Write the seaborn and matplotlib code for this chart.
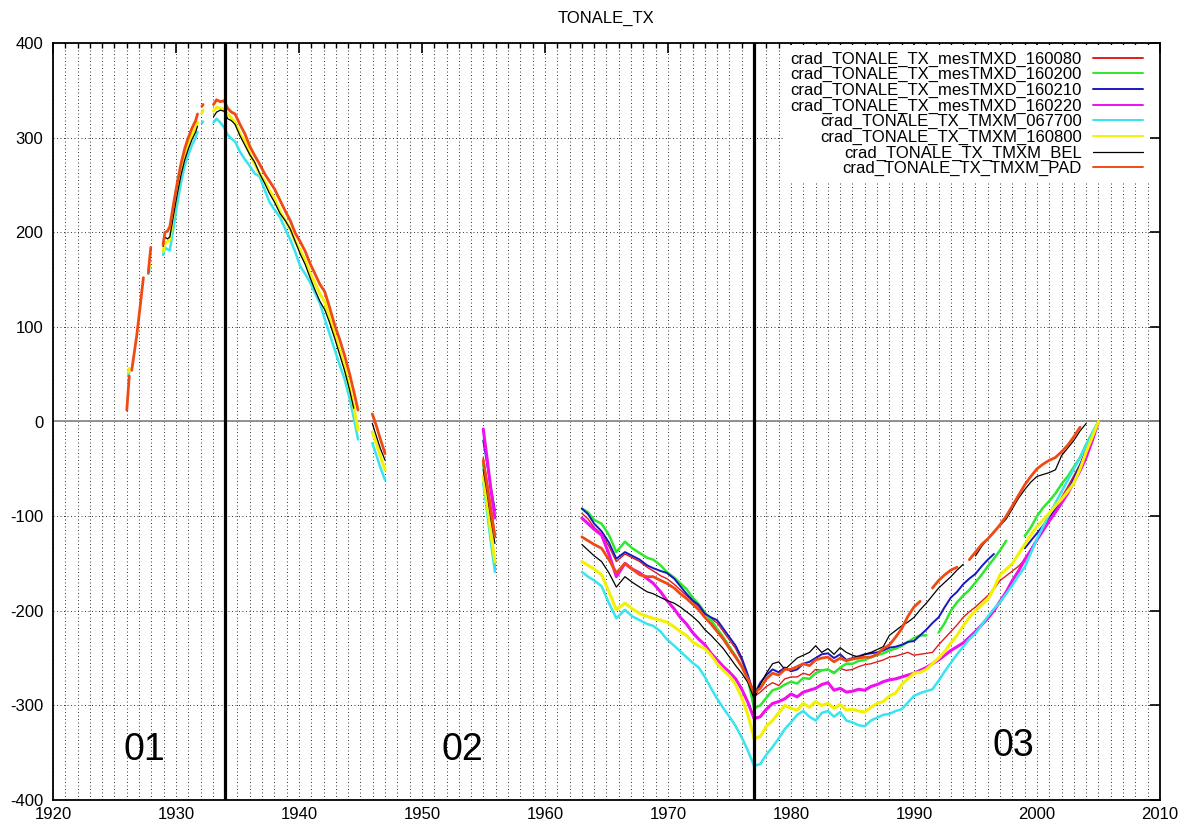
import numpy as np
import pandas as pd
import matplotlib
matplotlib.use("Agg")
import matplotlib.pyplot as plt
from matplotlib.lines import Line2D
from matplotlib.ticker import MultipleLocator
import seaborn as sns

nan = np.nan

SERIES = ["crad_TONALE_TX_mesTMXD_160080", "crad_TONALE_TX_mesTMXD_160200",
          "crad_TONALE_TX_mesTMXD_160210", "crad_TONALE_TX_mesTMXD_160220",
          "crad_TONALE_TX_TMXM_067700", "crad_TONALE_TX_TMXM_160800",
          "crad_TONALE_TX_TMXM_BEL", "crad_TONALE_TX_TMXM_PAD"]

# ---- year grids (NaN values in a series mark missing data -> line breaks)
YEARS_P1 = [1926.0, 1926.1, 1926.2, 1926.3, 1926.4, 1926.6, 1926.8, 1927.0, 1927.2, 1927.35,
            1927.55, 1927.75, 1927.85, 1927.95, 1928.5, 1928.95, 1929.1, 1929.3, 1929.5, 1929.8,
            1930.1, 1930.4, 1930.7, 1931.0, 1931.3, 1931.6, 1931.75, 1931.95, 1932.1, 1932.2,
            1932.6, 1933.05, 1933.3, 1933.6, 1933.9, 1934.2, 1934.5, 1934.8, 1935.2, 1935.6,
            1936.0, 1936.4, 1936.8, 1937.2, 1937.6, 1938.0, 1938.45, 1938.9, 1939.3, 1939.7,
            1940.1, 1940.5, 1940.9, 1941.3, 1941.7, 1942.1, 1942.5, 1942.9, 1943.3, 1943.7,
            1944.1, 1944.45, 1944.8, 1945.4, 1945.96, 1946.3, 1946.6, 1947.0, 1950.0]
YEARS_P2 = [1954.98, 1955.3, 1955.6, 1955.93, 1959.0]
YEARS_P2B = [1963.0, 1963.5, 1964.0, 1964.6, 1965.2, 1965.8, 1966.5, 1967.1, 1967.7, 1968.3,
             1968.8, 1969.4, 1969.9, 1970.5, 1971.0, 1971.5, 1972.0, 1972.5, 1973.0, 1973.5,
             1974.0, 1974.5, 1975.0, 1975.5, 1976.0, 1976.5, 1977.0]
YEARS_P3 = [1977.5, 1978.0, 1978.5, 1979.0, 1979.5, 1980.0, 1980.5, 1981.0, 1981.5, 1982.0,
            1982.5, 1983.0, 1983.5, 1984.0, 1984.5, 1985.0, 1985.5, 1986.0, 1986.5, 1987.0,
            1987.5, 1988.0, 1988.5, 1989.0, 1989.5, 1990.0, 1990.5, 1991.0, 1991.5, 1992.0,
            1992.5, 1993.0, 1993.5, 1994.0, 1994.5, 1995.0, 1995.5, 1996.0, 1996.5, 1997.0,
            1997.5, 1998.0, 1998.5, 1999.0, 1999.5, 2000.0, 2000.5, 2001.0, 2001.5, 2002.0,
            2002.5, 2003.0, 2003.5, 2004.0, 2004.5, 2005.0]

# ---- period 1 (only four series reported)
PAD_P1 = [12, 30, 48, nan, 54, 72, 90, 112, 135, 152,
          nan, 157, 171, 184, nan, 187, 200, 201, 206, 230,
          252, 272, 288, 300, 310, 318, 325, nan, 333, 335,
          nan, 335, 340, 338, 339, 331, 327, 325, 314, 304,
          291, 281, 272, 262, 254, 246, 234, 222, 212, 199,
          190, 180, 167, 156, 145, 137, 120, 102, 87, 70,
          51, 32, 12, nan, 8, -5, -18, -34, nan]
YELLOW_P1 = [nan, 52, 56, nan, nan, nan, nan, nan, nan, nan,
             nan, 160, 165, nan, nan, 180, 188, 190, 192, 222,
             246, 266, 282, 293, 303, 310, 316, nan, 326, 329,
             nan, 328, 332, 331, 330, 325, 321, 316, 304, 296,
             283, 272, 262, 254, 244, 236, 222, 212, 203, 190,
             181, 170, 157, 146, 135, 126, 108, 92, 75, 58,
             36, 16, -9, nan, -11, -24, -36, -51, nan]
BLACK_P1 = [nan, nan, nan, nan, nan, nan, nan, nan, nan, nan,
            nan, nan, nan, nan, nan, 185, 195, 193, 195, 218,
            240, 260, 276, 288, 298, 306, 312, nan, nan, nan,
            nan, 322, 327, 329, 328, 320, 318, 314, 302, 292,
            282, 274, 262, 252, 241, 232, 220, 212, 203, 190,
            177, 166, 152, 139, 127, 118, 104, 88, 71, 54,
            34, 14, nan, nan, -2, -16, -28, -41, nan]
CYAN_P1 = [nan, 48, 52, nan, nan, nan, nan, nan, nan, nan,
           nan, 156, 160, nan, nan, 176, 184, 182, 181, 205,
           230, 252, 270, 282, 292, 300, 306, nan, 315, 317,
           nan, 316, 320, 316, 311, 303, 299, 296, 285, 277,
           270, 262, 259, 245, 232, 224, 216, 203, 192, 179,
           164, 156, 147, 136, 125, 108, 92, 76, 60, 45,
           25, 4, -19, nan, -23, -36, -48, -62, nan]

# ---- period 2 (1955)
RED_P2 = [-38, -64, -90, -118, nan]
GREEN_P2 = [-45, -80, -118, -155, nan]
BLUE_P2 = [-20, -45, -70, -94, nan]
MAGENTA_P2 = [-8, -40, -72, -102, nan]
CYAN_P2 = [-65, -97, -128, -159, nan]
YELLOW_P2 = [-58, -88, -118, -148, nan]
BLACK_P2 = [-51, -76, -103, -129, nan]
PAD_P2 = [-41, -68, -95, -122, nan]

# ---- period 2b (1963-1977)
RED_P2B = [-97, -103, -112, -119, -132, -148, -140, -144, -148, -154, -158, -163, -166, -172,
           -178, -184, -190, -196, -204, -208, -213, -222, -231, -240, -253, -270, -291]
GREEN_P2B = [-92, -96, -104, -108, -120, -138, -127, -134, -139, -144, -146, -152, -159, -165,
             -171, -177, -186, -193, -202, -210, -219, -228, -238, -248, -259, -273, -303]
BLUE_P2B = [-92, -98, -108, -116, -128, -145, -138, -142, -146, -152, -155, -158, -160, -166,
            -174, -182, -189, -194, -203, -207, -210, -219, -228, -237, -250, -268, -289]
MAGENTA_P2B = [-102, -108, -114, -120, -140, -164, -150, -156, -160, -166, -171, -180, -189, -198,
               -207, -214, -223, -230, -236, -245, -252, -259, -265, -272, -283, -297, -314]
CYAN_P2B = [-159, -164, -168, -174, -192, -208, -199, -206, -210, -214, -216, -222, -230, -237,
            -243, -249, -255, -260, -270, -282, -293, -303, -312, -322, -334, -348, -364]
YELLOW_P2B = [-148, -152, -156, -162, -180, -199, -192, -198, -203, -206, -208, -210, -212, -217,
              -222, -226, -233, -237, -240, -247, -256, -263, -269, -278, -292, -310, -335]
BLACK_P2B = [-130, -136, -142, -148, -160, -175, -164, -170, -175, -180, -182, -186, -189, -192,
             -196, -201, -206, -212, -220, -226, -233, -240, -249, -258, -266, -276, -293]
PAD_P2B = [-122, -126, -130, -134, -146, -160, -150, -156, -162, -164, -164, -168, -171, -176,
           -182, -187, -193, -199, -207, -214, -222, -230, -240, -249, -259, -272, -287]

# ---- period 3 (1977-2005)
RED_P3 = [-286, -280, -276, -279, -272, -270, -270, -266, -268, -262,
          -263, -262, -265, -261, -263, -262, -259, -257, -256, -254,
          -252, -249, -248, -246, -244, -247, -246, -245, -244, -236,
          -229, -222, -215, -207, -201, -196, -190, -184, -177, -168,
          -163, -158, -153, -146, -136, -125, -112, -101, -91, -80,
          -69, -57, -45, -31, -16, 0]
GREEN_P3 = [-300, -292, -284, -282, -278, -275, -277, -271, -272, -266,
            -263, -262, -266, -260, -256, -256, -253, -252, -249, -247,
            -245, -242, -240, -237, -233, -229, -226, -226, nan, -223,
            -213, -200, -191, -184, -178, -170, -162, -153, -145, -136,
            -126, nan, nan, -121, -112, -100, -91, -84, -76, -66,
            -58, -48, -38, -24, -12, 0]
BLUE_P3 = [-276, -268, -262, -265, -260, -264, -262, -256, -254, -250,
           -246, -245, -250, -246, -252, -250, -248, -246, -245, -244,
           -242, -239, -238, -236, -233, -232, -226, -220, -213, -207,
           -196, -186, -180, -172, -166, -161, -153, -146, -140, nan,
           nan, nan, nan, -134, -126, -118, -110, -102, -93, -83,
           -73, -60, -46, -30, -14, 0]
MAGENTA_P3 = [-312, -304, -298, -296, -293, -288, -291, -286, -284, -282,
              -278, -276, -284, -282, -286, -285, -283, -284, -280, -278,
              -275, -273, -272, -270, -268, -266, -263, -260, -256, -252,
              -247, -242, -238, -234, -228, -222, -215, -208, -200, -190,
              -180, -168, -158, -146, -136, -125, -115, -105, -96, -86,
              -76, -64, -52, -38, -20, 0]
CYAN_P3 = [-362, -352, -344, -335, -325, -318, -310, -306, -312, -316,
           -308, -306, -312, -307, -316, -318, -321, -322, -316, -313,
           -310, -309, -306, -304, -297, -290, -287, -285, -283, -274,
           -264, -255, -246, -238, -230, -224, -215, -206, -198, -191,
           -182, -173, -163, -154, -139, -124, -111, -98, -86, -74,
           -62, -50, -38, -25, -12, 0]
YELLOW_P3 = [-333, -322, -316, -308, -300, -303, -305, -298, -302, -296,
             -300, -298, -303, -299, -305, -304, -306, -307, -302, -298,
             -296, -290, -287, -278, -272, -266, -265, -262, -256, -250,
             -243, -234, -226, -216, -207, -200, -194, -188, -176, -162,
             -156, -150, -140, -130, -120, -111, -104, -97, -89, -82,
             -74, -65, -50, -32, -16, 0]
BLACK_P3 = [-278, -266, -256, -254, -262, -256, -250, -247, -244, -237,
            -244, -240, -246, -239, -244, -247, -249, -246, -244, -241,
            -238, -226, -221, -216, -212, -207, -199, -192, -184, -176,
            -170, -164, -157, -151, nan, -142, -132, -124, -116, -110,
            -103, -92, -81, -72, -64, -58, -56, -54, -51, -36,
            -28, -20, -10, -2, nan, nan]
PAD_P3 = [-282, -272, -266, -268, -262, -262, -259, -256, -258, -252,
          -250, -249, -254, -250, -253, -251, -250, -249, -249, -246,
          -240, -236, -228, -219, -206, -196, -190, nan, -176, -168,
          -162, -157, -154, nan, -146, -138, -130, -124, -117, -109,
          -100, -89, -78, -67, -58, -50, -45, -41, -38, -32,
          -25, -16, -6, nan, nan, nan]

# ---- styles
COLORS = ["#e01c1c", "#2ee82e", "#1818c0", "#ee10ee", "#38e4ee", "#f2f200", "#000000", "#f04a14"]
WIDTHS = [1.0, 1.8, 1.4, 2.2, 1.8, 2.2, 0.9, 2.0]

parts = {
    SERIES[0]: (None, RED_P2, RED_P2B, RED_P3),
    SERIES[1]: (None, GREEN_P2, GREEN_P2B, GREEN_P3),
    SERIES[2]: (None, BLUE_P2, BLUE_P2B, BLUE_P3),
    SERIES[3]: (None, MAGENTA_P2, MAGENTA_P2B, MAGENTA_P3),
    SERIES[4]: (CYAN_P1, CYAN_P2, CYAN_P2B, CYAN_P3),
    SERIES[5]: (YELLOW_P1, YELLOW_P2, YELLOW_P2B, YELLOW_P3),
    SERIES[6]: (BLACK_P1, BLACK_P2, BLACK_P2B, BLACK_P3),
    SERIES[7]: (PAD_P1, PAD_P2, PAD_P2B, PAD_P3),
}
grids = [YEARS_P1, YEARS_P2, YEARS_P2B, YEARS_P3]

frames = []
for k, name in enumerate(SERIES):
    yrs, vals = [], []
    for g, p in zip(grids, parts[name]):
        if p is None:
            p = [nan] * len(g)
        assert len(p) == len(g), (name, len(p), len(g))
        yrs += list(g)
        vals += list(p)
    d = pd.DataFrame({"year": yrs, "value": np.array(vals, dtype=float)})
    d["seg"] = k * 1000 + d["value"].isna().cumsum()
    d["series"] = name
    frames.append(d.dropna(subset=["value"]))
df = pd.concat(frames, ignore_index=True)

# ---- figure
sns.set_theme(style="white")
plt.rcParams["font.family"] = ["Liberation Sans", "DejaVu Sans"]
plt.rcParams["axes.unicode_minus"] = False
plt.rcParams["text.color"] = "black"

fig = plt.figure(figsize=(11.9, 8.3), dpi=100)
ax = fig.add_axes([53 / 1190, 30 / 830, 1107 / 1190, 757 / 830])

ax.set_xlim(1920, 2010)
ax.set_ylim(-400, 400)
ax.xaxis.set_major_locator(MultipleLocator(10))
ax.xaxis.set_minor_locator(MultipleLocator(1))
ax.yaxis.set_major_locator(MultipleLocator(100))

dot = (0, (1, 2.6))
ax.grid(True, which="both", axis="x", color="#333333", linestyle=dot, linewidth=0.7)
ax.grid(True, which="major", axis="y", color="#333333", linestyle=dot, linewidth=0.7)
ax.set_axisbelow(True)
ax.axhline(0, color="#8a8a8a", lw=1.3, zorder=1)

sns.lineplot(data=df, x="year", y="value", hue="series", hue_order=SERIES,
             palette=dict(zip(SERIES, COLORS)), size="series", size_order=SERIES,
             sizes=dict(zip(SERIES, WIDTHS)), units="seg", estimator=None,
             sort=False, legend=False, ax=ax)

ax.axvline(1934, color="black", lw=2.3, zorder=5)
ax.axvline(1977, color="black", lw=2.3, zorder=5)

for s in ax.spines.values():
    s.set_visible(True)
    s.set_color("black")
    s.set_linewidth(1.3)
ax.tick_params(which="both", direction="in", top=True, right=True, colors="black",
               labelsize=12)
ax.tick_params(which="major", length=7, width=1.2)
ax.tick_params(which="minor", length=3.5, width=1.0)
ax.tick_params(axis="y", pad=7)
ax.tick_params(axis="x", pad=5)
ax.set_xlabel("")
ax.set_ylabel("")

ax.text(1927.4, -347, "01", fontsize=27, ha="center", va="center", color="black")
ax.text(1953.3, -347, "02", fontsize=27, ha="center", va="center", color="black")
ax.text(1998.1, -343, "03", fontsize=27, ha="center", va="center", color="black")

fig.text(606 / 1190, 1 - 18 / 830, "TONALE_TX", fontsize=12, ha="center", va="center",
         color="black")

handles = [Line2D([0], [0], color=c, lw=(0.9 if c == "#000000" else 1.4)) for c in COLORS]
leg = ax.legend(handles, SERIES, loc="upper right",
                bbox_to_anchor=((1150 - 53) / 1107, (800 - 45) / 757),
                borderaxespad=0, borderpad=0.4, frameon=True, fancybox=False,
                markerfirst=False, fontsize=12, handlelength=3.0, handletextpad=0.7,
                labelspacing=0.03, labelcolor="black")
leg.get_frame().set_facecolor("white")
leg.get_frame().set_edgecolor("none")
leg.get_frame().set_alpha(1.0)
leg.set_zorder(10)

fig.savefig("out.png", dpi=100)
